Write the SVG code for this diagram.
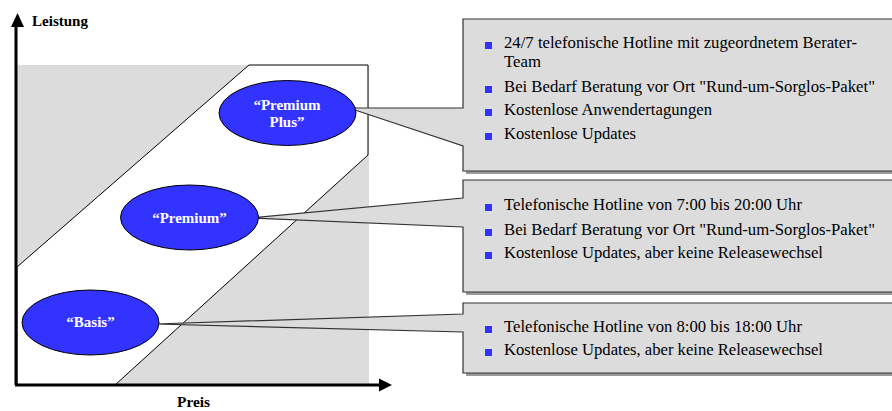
<svg xmlns="http://www.w3.org/2000/svg" width="892" height="411" viewBox="0 0 892 411">
<style>
.lbl{font-family:"Liberation Serif","Times New Roman",serif;font-weight:bold;font-size:15.5px;fill:#000}
.el{fill:#3333ff;stroke:#000;stroke-width:1}
.et{font-family:"Liberation Serif","Times New Roman",serif;font-weight:bold;font-size:15px;fill:#fff;text-anchor:middle}
.box{fill:#dcdcdc;stroke:#333;stroke-width:1.2}
.shadow{fill:#9a9a9a}
.tx{font-family:"Liberation Serif","Times New Roman",serif;font-size:16.5px;fill:#000}
.bl{fill:#3333ff}
</style>
<rect width="892" height="411" fill="#fff"/>
<g id="background">
<rect x="17" y="65" width="352" height="320" fill="#dcdcdc"/>
<polygon points="249,65 368,65 368,155 115,385 17,385 17,267" fill="#fff" stroke="#000" stroke-width="1"/>
</g>
<g id="axes">
<line x1="16" y1="385" x2="16" y2="24" stroke="#000" stroke-width="3"/>
<polygon points="17.5,13 11,27 24,27" fill="#000"/>
<line x1="15" y1="385" x2="382" y2="385" stroke="#000" stroke-width="3"/>
<polygon points="392,385 379,378.5 379,391.5" fill="#000"/>
<text class="lbl" x="32" y="26" textLength="56" lengthAdjust="spacingAndGlyphs">Leistung</text>
<text class="lbl" x="177" y="407" textLength="33" lengthAdjust="spacingAndGlyphs">Preis</text>
</g>
<g id="connectors">
<g id="callout-plus">
<path class="shadow" d="M466,22 H895 V174 H466 Z"/>
<path class="box" d="M463,19 H895 V171 H463 V146 L349,108 L463,108 Z"/>
</g>
<g id="callout-premium">
<path class="shadow" d="M466,183 H895 V295 H466 Z"/>
<path class="box" d="M463,180 H895 V292 H463 V227 L251,218 L463,198 Z"/>
</g>
<g id="callout-basis">
<path class="shadow" d="M466,306 H895 V376 H466 Z"/>
<path class="box" d="M463,303 H895 V373 H463 V332 L155,324 L463,314 Z"/>
</g>
</g>
<g id="node-premium-plus">
<ellipse class="el" cx="287.5" cy="113" rx="68.5" ry="32.5"/>
<text class="et" x="287" y="110">“Premium</text>
<text class="et" x="287" y="127">Plus”</text>
</g>
<g id="node-premium">
<ellipse class="el" cx="189.5" cy="217.5" rx="69" ry="32.5"/>
<text class="et" x="189.5" y="223">“Premium”</text>
</g>
<g id="node-basis">
<ellipse class="el" cx="90.5" cy="322.5" rx="68.5" ry="32.5"/>
<text class="et" x="90.5" y="327">“Basis”</text>
</g>
<g id="text-plus">
<rect class="bl" x="485" y="42" width="7" height="7"/>
<text class="tx" x="504" y="48" textLength="353" lengthAdjust="spacingAndGlyphs">24/7 telefonische Hotline mit zugeordnetem Berater-</text>
<text class="tx" x="504" y="67" textLength="37" lengthAdjust="spacingAndGlyphs">Team</text>
<rect class="bl" x="485" y="86" width="7" height="7"/>
<text class="tx" x="504" y="92" textLength="371" lengthAdjust="spacingAndGlyphs">Bei Bedarf Beratung vor Ort "Rund-um-Sorglos-Paket"</text>
<rect class="bl" x="485" y="109" width="7" height="7"/>
<text class="tx" x="504" y="115" textLength="208" lengthAdjust="spacingAndGlyphs">Kostenlose Anwendertagungen</text>
<rect class="bl" x="485" y="133" width="7" height="7"/>
<text class="tx" x="504" y="139" textLength="132" lengthAdjust="spacingAndGlyphs">Kostenlose Updates</text>
</g>
<g id="text-premium">
<rect class="bl" x="485" y="204" width="7" height="7"/>
<text class="tx" x="504" y="210" textLength="298" lengthAdjust="spacingAndGlyphs">Telefonische Hotline von 7:00 bis 20:00 Uhr</text>
<rect class="bl" x="485" y="229" width="7" height="7"/>
<text class="tx" x="504" y="235" textLength="371" lengthAdjust="spacingAndGlyphs">Bei Bedarf Beratung vor Ort "Rund-um-Sorglos-Paket"</text>
<rect class="bl" x="485" y="252" width="7" height="7"/>
<text class="tx" x="504" y="258" textLength="319" lengthAdjust="spacingAndGlyphs">Kostenlose Updates, aber keine Releasewechsel</text>
</g>
<g id="text-basis">
<rect class="bl" x="485" y="326" width="7" height="7"/>
<text class="tx" x="504" y="332" textLength="298" lengthAdjust="spacingAndGlyphs">Telefonische Hotline von 8:00 bis 18:00 Uhr</text>
<rect class="bl" x="485" y="349" width="7" height="7"/>
<text class="tx" x="504" y="355" textLength="319" lengthAdjust="spacingAndGlyphs">Kostenlose Updates, aber keine Releasewechsel</text>
</g>
</svg>
